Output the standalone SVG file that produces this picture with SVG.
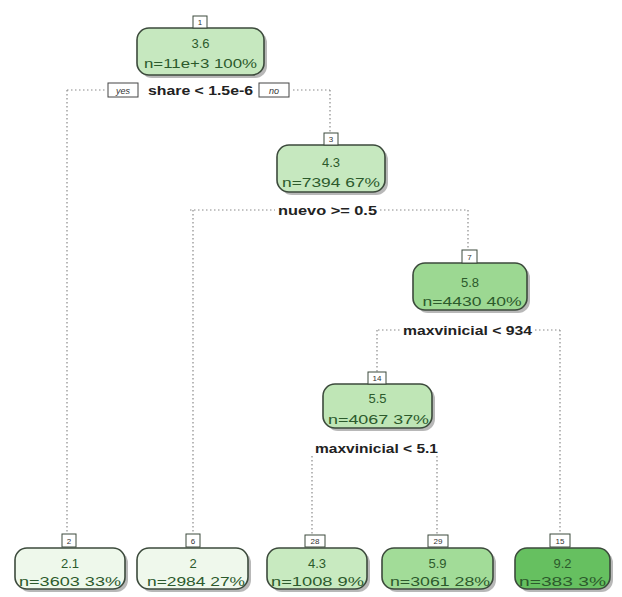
<svg xmlns="http://www.w3.org/2000/svg" width="622" height="597" viewBox="0 0 622 597">
<style>
.bg{fill:#ffffff}
.sh{fill:#b8b8b8}
.box{stroke:#3c4a3c;stroke-width:1.6}
.num{fill:#ffffff;stroke:#3c4a3c;stroke-width:1}
.numt{font-family:"Liberation Sans",Arial,sans-serif;font-size:8px;fill:#333;text-anchor:middle}
.v{font-family:"Liberation Sans",Arial,sans-serif;font-size:13px;fill:#2c5a2c;text-anchor:middle}
.sp{font-family:"Liberation Sans",Arial,sans-serif;font-size:13px;font-weight:bold;fill:#222;text-anchor:middle}
.yn{font-family:"Liberation Sans",Arial,sans-serif;font-size:9px;font-style:italic;fill:#333;text-anchor:middle}
.ynb{fill:#fff;stroke:#444;stroke-width:1}
.e{stroke:#8a8a8a;stroke-width:1.2;stroke-dasharray:1.5 2.5;fill:none}
</style>
<rect class="bg" x="0" y="0" width="622" height="597"/>
<g id="connectors">
<path class="e" d="M67,90 H105 M293,90 H330 M67,90 V533 M330,90 V133"/>
<path class="e" d="M190,210 H275 M380,210 H467 M193,210 V533 M468,210 V250"/>
<path class="e" d="M378,330 H400 M535,330 H560 M377,330 V372 M560,330 V533"/>
<path class="e" d="M312,456 V535 M437,456 V535"/>
</g>
<g id="split-labels">
<rect class="ynb" x="108" y="83" width="30" height="14"/>
<text class="yn" x="123" y="93.5">yes</text>
<text class="sp" x="200.5" y="95" textLength="105" lengthAdjust="spacingAndGlyphs">share &lt; 1.5e-6</text>
<rect class="ynb" x="259" y="83" width="30" height="14"/>
<text class="yn" x="274" y="93.5">no</text>
<text class="sp" x="327.5" y="215" textLength="99" lengthAdjust="spacingAndGlyphs">nuevo &gt;= 0.5</text>
<text class="sp" x="467.5" y="335" textLength="129" lengthAdjust="spacingAndGlyphs">maxvinicial &lt; 934</text>
<text class="sp" x="376.5" y="453" textLength="123" lengthAdjust="spacingAndGlyphs">maxvinicial &lt; 5.1</text>
</g>
<g id="node1">
<rect class="sh" x="140" y="31" width="127" height="47" rx="12"/>
<rect class="box" x="137" y="28" width="127" height="47" rx="12" fill="#c6e8bf"/>
<rect class="num" x="193" y="16" width="14" height="12"/>
<text class="numt" x="200" y="25">1</text>
<text class="v" x="200.5" y="48">3.6</text>
<text class="v" x="200.5" y="68" textLength="113" lengthAdjust="spacingAndGlyphs">n=11e+3 100%</text>
</g>
<g id="node3">
<rect class="sh" x="280" y="148" width="108" height="47" rx="12"/>
<rect class="box" x="277" y="145" width="108" height="47" rx="12" fill="#c6e8bf"/>
<rect class="num" x="324" y="133" width="14" height="12"/>
<text class="numt" x="331" y="142">3</text>
<text class="v" x="331" y="167">4.3</text>
<text class="v" x="331" y="187" textLength="98" lengthAdjust="spacingAndGlyphs">n=7394 67%</text>
</g>
<g id="node7">
<rect class="sh" x="416" y="266" width="114" height="47" rx="12"/>
<rect class="box" x="413" y="263" width="114" height="47" rx="12" fill="#9cd892"/>
<rect class="num" x="462" y="250" width="15" height="13"/>
<text class="numt" x="469.5" y="259.5">7</text>
<text class="v" x="470" y="287">5.8</text>
<text class="v" x="472" y="306" textLength="99" lengthAdjust="spacingAndGlyphs">n=4430 40%</text>
</g>
<g id="node14">
<rect class="sh" x="326" y="387" width="109" height="44" rx="12"/>
<rect class="box" x="323" y="384" width="109" height="44" rx="12" fill="#bfe6b6"/>
<rect class="num" x="368" y="372" width="18" height="12"/>
<text class="numt" x="377" y="381">14</text>
<text class="v" x="377.5" y="403">5.5</text>
<text class="v" x="378.5" y="424" textLength="101" lengthAdjust="spacingAndGlyphs">n=4067 37%</text>
</g>
<g id="node2">
<rect class="sh" x="18" y="551" width="110" height="41" rx="12"/>
<rect class="box" x="15" y="548" width="110" height="41" rx="12" fill="#eef8eb"/>
<rect class="num" x="62" y="534" width="14" height="13"/>
<text class="numt" x="69" y="543.5">2</text>
<text class="v" x="70" y="568">2.1</text>
<text class="v" x="70" y="586" textLength="102" lengthAdjust="spacingAndGlyphs">n=3603 33%</text>
</g>
<g id="node6">
<rect class="sh" x="140" y="551" width="111" height="41" rx="12"/>
<rect class="box" x="137" y="548" width="111" height="41" rx="12" fill="#eff8ec"/>
<rect class="num" x="186" y="534" width="14" height="13"/>
<text class="numt" x="193" y="543.5">6</text>
<text class="v" x="193" y="568">2</text>
<text class="v" x="196" y="586" textLength="98" lengthAdjust="spacingAndGlyphs">n=2984 27%</text>
</g>
<g id="node28">
<rect class="sh" x="270" y="551" width="100" height="41" rx="12"/>
<rect class="box" x="267" y="548" width="100" height="41" rx="12" fill="#c8eac0"/>
<rect class="num" x="305" y="535" width="20" height="12"/>
<text class="numt" x="315" y="544">28</text>
<text class="v" x="317" y="568">4.3</text>
<text class="v" x="317.5" y="586" textLength="93" lengthAdjust="spacingAndGlyphs">n=1008 9%</text>
</g>
<g id="node29">
<rect class="sh" x="385" y="551" width="111" height="41" rx="12"/>
<rect class="box" x="382" y="548" width="111" height="41" rx="12" fill="#a2dc98"/>
<rect class="num" x="428" y="535" width="20" height="12"/>
<text class="numt" x="438" y="544">29</text>
<text class="v" x="437.5" y="568">5.9</text>
<text class="v" x="440" y="586" textLength="100" lengthAdjust="spacingAndGlyphs">n=3061 28%</text>
</g>
<g id="node15">
<rect class="sh" x="518" y="551" width="95" height="41" rx="12"/>
<rect class="box" x="515" y="548" width="95" height="41" rx="12" fill="#66c060"/>
<rect class="num" x="550" y="534" width="20" height="13"/>
<text class="numt" x="560" y="543.5">15</text>
<text class="v" x="562.5" y="568">9.2</text>
<text class="v" x="562.5" y="586" textLength="87" lengthAdjust="spacingAndGlyphs">n=383 3%</text>
</g>
</svg>
